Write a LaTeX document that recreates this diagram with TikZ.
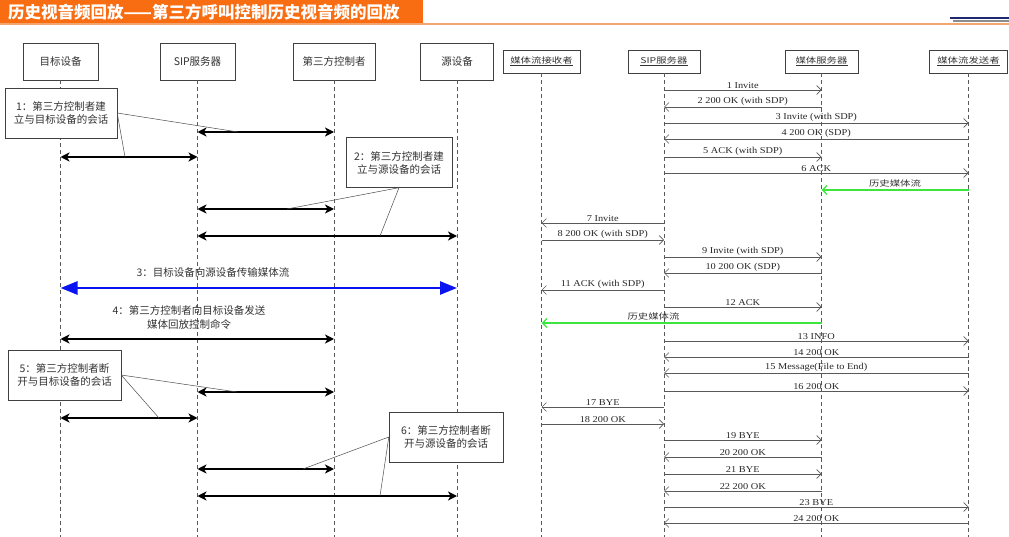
\documentclass[tikz,border=0pt]{standalone}
\usepackage{fontspec}
\setmainfont{Liberation Serif}
\newfontfamily\cjk{Noto Sans CJK SC}
\newfontfamily\cjkwide[FakeStretch=1.3]{Noto Sans CJK SC}
\newfontfamily\msgfont[FakeStretch=1.15]{Liberation Serif}
\usetikzlibrary{arrows.meta}
\definecolor{hdrorange}{RGB}{248,108,18}
\definecolor{hdrline}{RGB}{244,164,110}
\definecolor{hdrnavy}{RGB}{30,40,110}
\definecolor{flowgreen}{RGB}{60,230,60}
\definecolor{flowblue}{RGB}{10,20,240}

\begin{document}
\begin{tikzpicture}[x=1pt, y=-1pt,
	lane/.style={draw=black!75, fill=white, minimum width=75, minimum height=37, inner sep=2pt, text=black!80, font=\cjk\fontsize{10.5}{12}\selectfont},
	rlane/.style={draw=black!75, fill=white, minimum width=75, minimum height=23, inner sep=1pt, text=black!80, font=\cjkwide\fontsize{8}{10}\selectfont},
	note/.style={draw=black!75, fill=white, align=center, inner sep=3pt, minimum width=112, minimum height=50, text=black!80, font=\cjk\fontsize{10.5}{13}\selectfont},
	lifeline/.style={draw=black!65, dash pattern=on 4pt off 3pt, line width=0.6pt},
	twoway/.style={{Stealth[length=9pt,width=9pt,inset=2.5pt]}-{Stealth[length=9pt,width=9pt,inset=2.5pt]}, line width=1.6pt, black},
	media/.style={{Triangle[length=17pt,width=13pt]}-{Triangle[length=17pt,width=13pt]}, line width=2.6pt, flowblue},
	callout/.style={draw=black!70, line width=0.5pt},
	msg/.style={-{Straight Barb[length=4.5pt,width=9pt]}, draw=black!65, line width=0.6pt},
	hist/.style={-{Straight Barb[length=4.5pt,width=9pt]}, draw=flowgreen, line width=1.4pt},
	msglbl/.style={midway, above=0.5pt, inner sep=1pt, text=black!85, font=\msgfont\fontsize{9}{10}\selectfont},
	histlbl/.style={above=1pt, inner sep=1pt, text=black!80, font=\cjkwide\fontsize{8}{10}\selectfont},
	]
	\useasboundingbox (0,0) rectangle (1009,537);
	% Header:
	\fill[hdrorange] (0,0) rectangle (423,23);
	\node[anchor=west, text=white, inner sep=0pt, font=\cjk\bfseries\fontsize{16.5}{18}\selectfont] (hdr) at (8,12) {历史视音频回放——第三方呼叫控制历史视音频的回放};
	\draw[hdrline, line width=1.2pt] (0,24) -- (1009,24);
	\draw[hdrnavy, line width=1.2pt] (950,18) -- (1009,18);
	\draw[black!45, line width=2pt] (953,21) -- (1009,21);

	% Left chart, lanes:
	\node[lane] (tgt) at (60.5,61.5) {目标设备};
	\node[lane] (sip) at (197.5,61.5) {SIP服务器};
	\node[lane, minimum width=82] (ctl) at (334,61.5) {第三方控制者};
	\node[lane, minimum width=73] (src) at (457,61.5) {源设备};
	% Right chart, lanes:
	\node[rlane, minimum width=77] (rcv) at (541.5,61.5) {\underline{媒体流接收者}};
	\node[rlane, minimum width=72] (rsip) at (664,61.5) {\underline{SIP服务器}};
	\node[rlane, minimum width=73] (msv) at (821.5,61.5) {\underline{媒体服务器}};
	\node[rlane, minimum width=78] (snd) at (968.5,61.5) {\underline{媒体流发送者}};
	\foreach \n in {tgt,sip,ctl,src,rcv,rsip,msv,snd}
		\draw[lifeline] (\n.south) -- (\n |- 0,537);

	% Left chart, sessions:
	\foreach \a/\b/\y in {sip/ctl/132, tgt/sip/157, sip/ctl/209, sip/src/236, tgt/ctl/339, sip/ctl/392, tgt/sip/418, sip/ctl/469, sip/src/496}
		\draw[twoway] (\a |- 0,\y) -- (\b |- 0,\y);
	\draw[media] (tgt |- 0,288) -- (src |- 0,288);
	\node[text=black!80, font=\cjk\fontsize{10.5}{13}\selectfont] (lbl3) at (213,273) {3：目标设备向源设备传输媒体流};
	\node[align=center, text=black!80, font=\cjk\fontsize{10.5}{14}\selectfont] (lbl4) at (189,318) {4：第三方控制者向目标设备发送\\媒体回放控制命令};

	% Left chart, notes:
	\node[note] (note1) at (61,113) {1：第三方控制者建\\立与目标设备的会话};
	\node[note, minimum width=106] (note2) at (399,162.5) {2：第三方控制者建\\立与源设备的会话};
	\node[note, minimum width=113] (note5) at (64.5,375) {5：第三方控制者断\\开与目标设备的会话};
	\node[note, minimum width=114] (note6) at (446,437) {6：第三方控制者断\\开与源设备的会话};
	\coordinate (n1a) at (238,132);
	\coordinate (n1b) at (125,157);
	\coordinate (n2a) at (287,209);
	\coordinate (n2b) at (380,236);
	\coordinate (n5a) at (237,392);
	\coordinate (n5b) at (159,418);
	\coordinate (n6a) at (303,469);
	\coordinate (n6b) at (380,496);
	\draw[callout] (note1.east) -- (n1a) (note1.east) -- (n1b);
	\draw[callout] (note2.south) -- (n2a) (note2.south) -- (n2b);
	\draw[callout] (note5.east) -- (n5a) (note5.east) -- (n5b);
	\draw[callout] (note6.west) -- (n6a) (note6.west) -- (n6b);

	% Right chart, messages:
	\foreach \a/\b/\y/\lbl in {rsip/msv/90/1 Invite, msv/rsip/107/2 200 OK (with SDP), rsip/snd/123/3 Invite (with SDP), snd/rsip/139/4 200 OK (SDP), rsip/msv/157/5 ACK (with SDP), rsip/snd/173/6 ACK, rsip/rcv/223/7 Invite, rcv/rsip/240/8 200 OK (with SDP), rsip/msv/257/9 Invite (with SDP), msv/rsip/273/10 200 OK (SDP), rsip/rcv/290/11 ACK (with SDP), rsip/msv/307/12 ACK, rsip/snd/341/13 INFO, snd/rsip/357/14 200 OK, snd/rsip/373/15 Message(File to End), rsip/snd/391/16 200 OK, rsip/rcv/407/17 BYE, rcv/rsip/424/18 200 OK, rsip/msv/440/19 BYE, msv/rsip/457/20 200 OK, rsip/msv/474/21 BYE, msv/rsip/491/22 200 OK, rsip/snd/507/23 BYE, snd/rsip/523/24 200 OK}
		\draw[msg] (\a |- 0,\y) -- node[msglbl] {\lbl} (\b |- 0,\y);
	\draw[hist] (snd |- 0,190) -- node[histlbl, midway] {历史媒体流} (msv |- 0,190);
	\draw[hist] (msv |- 0,323) -- node[histlbl, pos=0.6] {历史媒体流} (rcv |- 0,323);
\end{tikzpicture}
\end{document}
